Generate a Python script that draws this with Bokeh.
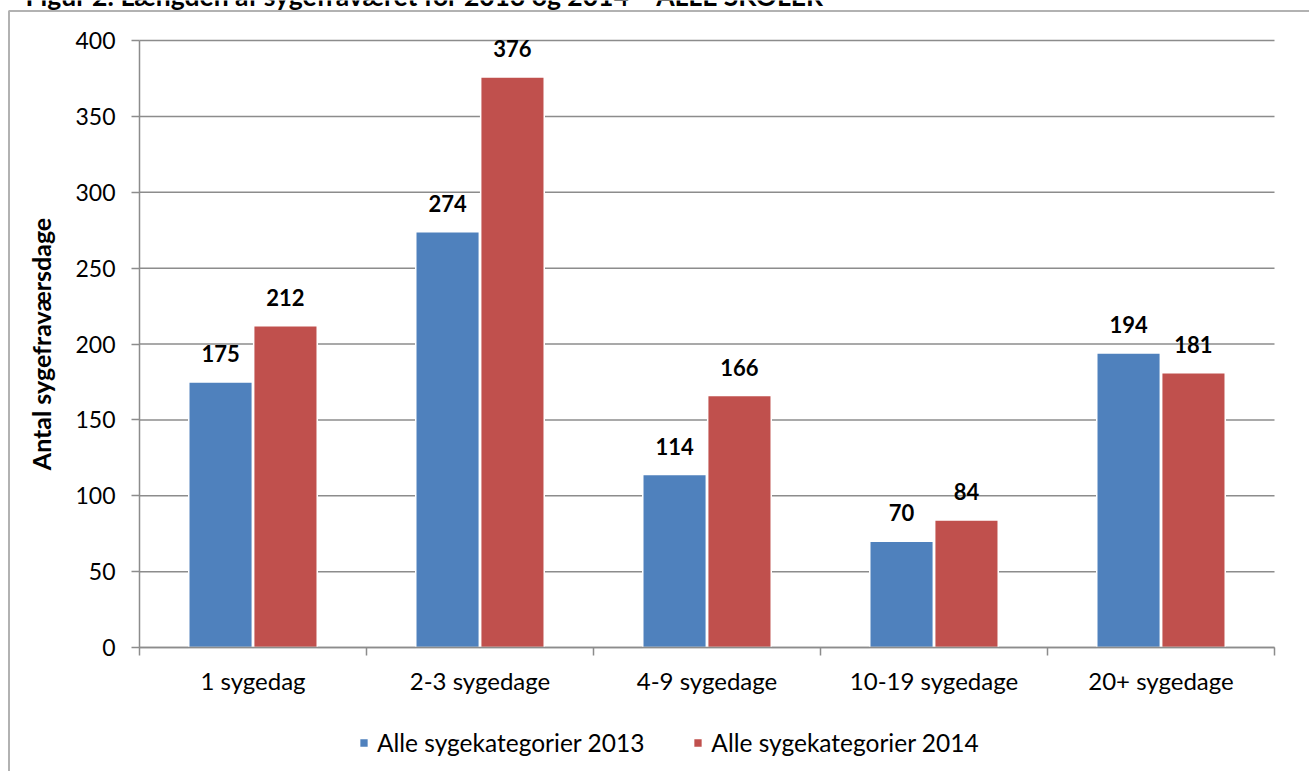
from bokeh.plotting import figure
from bokeh.models import (ColumnDataSource, FixedTicker, LabelSet, Legend, LegendItem,
                          LinearAxis, BoxAnnotation, Label, Range1d)
from bokeh.core.properties import value
from bokeh.embed import file_html
from bokeh.resources import INLINE

title_text = "Figur 2: Længden af sygefraværet for 2013 og 2014 – ALLE SKOLER"
categories = ["1 sygedag", "2-3 sygedage", "4-9 sygedage", "10-19 sygedage", "20+ sygedage"]
values_2013 = [175, 274, 114, 70, 194]
values_2014 = [212, 376, 166, 84, 181]
series_names = ["Alle sygekategorier 2013", "Alle sygekategorier 2014"]
y_label = "Antal sygefraværsdage"
y_ticks = [0, 50, 100, 150, 200, 250, 300, 350, 400]

FONT = "Lato"
BLUE = "#4F81BD"
RED = "#C0504D"
GRID = "#8C8C8C"

# layout (pixels on the canvas)
W, H = 1309, 771
PL, PR, PT, PB = 139, 1274, 40, 647
YMAX = 400
ncat = len(categories)
xs = (PR - PL) / ncat          # px per category
ys = (PB - PT) / YMAX          # px per unit

x0 = -PL / xs
x1 = (W - PL) / xs
y0 = -(H - PB) / ys
y1 = YMAX + PT / ys

centers = [i + 0.5 for i in range(ncat)]
dodge = 0.143
bw = 0.28

src13 = ColumnDataSource(dict(x=[c - dodge for c in centers], y=values_2013,
                              lab=[str(v) for v in values_2013]))
src14 = ColumnDataSource(dict(x=[c + dodge for c in centers], y=values_2014,
                              lab=[str(v) for v in values_2014]))

p = figure(width=W, height=H, x_range=Range1d(x0, x1), y_range=Range1d(y0, y1),
           output_backend="svg", toolbar_location=None,
           x_axis_location=None, y_axis_location=None, min_border=0)
p.outline_line_color = None
p.background_fill_color = "white"
p.border_fill_color = "white"
p.xgrid.visible = False
p.ygrid.visible = False

# horizontal gridlines over the plot area only
p.segment(x0=[0] * len(y_ticks), x1=[ncat] * len(y_ticks), y0=y_ticks, y1=y_ticks,
          line_color=GRID, line_width=1.5)

r13 = p.vbar(x="x", top="y", width=bw, source=src13, fill_color=BLUE,
             line_color="white", line_width=1.5)
r14 = p.vbar(x="x", top="y", width=bw, source=src14, fill_color=RED,
             line_color="white", line_width=1.5)

for s in (src13, src14):
    p.add_layout(LabelSet(x="x", y="y", text="lab", source=s, text_align="center",
                          text_baseline="alphabetic", y_offset=20,
                          text_font=value(FONT), text_font_style="bold",
                          text_font_size="22px", text_color="black"))

# y axis
yax = LinearAxis(fixed_location=0, bounds=(0, YMAX), ticker=FixedTicker(ticks=y_ticks))
yax.axis_line_color = GRID
yax.axis_line_width = 1.5
yax.major_tick_line_color = GRID
yax.major_tick_line_width = 1.5
yax.major_tick_in = 0
yax.major_tick_out = 8
yax.minor_tick_line_color = None
yax.major_label_text_font = FONT
yax.major_label_text_font_size = "23px"
yax.major_label_text_color = "black"
yax.major_label_standoff = 16
yax.axis_label = y_label
yax.axis_label_text_font = FONT
yax.axis_label_text_font_size = "25px"
yax.axis_label_text_font_style = "bold"
yax.axis_label_text_color = "black"
yax.axis_label_standoff = 16
p.add_layout(yax, "left")

# x axis
xax = LinearAxis(fixed_location=0, bounds=(0, ncat),
                 ticker=FixedTicker(ticks=centers, minor_ticks=list(range(0, ncat + 1))))
xax.major_label_overrides = {c: name for c, name in zip(centers, categories)}
xax.axis_line_color = GRID
xax.axis_line_width = 1.5
xax.major_tick_line_color = None
xax.major_tick_in = 0
xax.major_tick_out = 0
xax.minor_tick_line_color = GRID
xax.minor_tick_line_width = 1.5
xax.minor_tick_in = 0
xax.minor_tick_out = 8
xax.major_label_text_font = FONT
xax.major_label_text_font_size = "24px"
xax.major_label_text_color = "black"
xax.major_label_standoff = 10
p.add_layout(xax, "below")

# outer frame (left and top border of the chart box)
p.add_layout(BoxAnnotation(left=(8.5 - PL) / xs, right=x1 + 1, top=YMAX + (PT - 10.5) / ys,
                           bottom=y0 - 50, fill_alpha=0, line_color="black", line_width=2))

# cut-off caption above the chart box
p.add_layout(Label(x=25, y=H + 4.5, x_units="screen", y_units="screen", text=title_text,
                   text_font=FONT, text_font_style="bold", text_font_size="26.5px",
                   text_baseline="alphabetic", text_color="black"))

legend = Legend(items=[LegendItem(label=series_names[0], renderers=[r13]),
                       LegendItem(label=series_names[1], renderers=[r14])],
                orientation="horizontal", location=(358, 14),
                padding=0, margin=0, spacing=48, label_standoff=8,
                glyph_width=11, glyph_height=11,
                label_text_font=FONT, label_text_font_size="24.5px",
                label_text_color="black", border_line_color=None,
                background_fill_alpha=0)
p.add_layout(legend)

open("out.html", "w").write(file_html(p, INLINE))
